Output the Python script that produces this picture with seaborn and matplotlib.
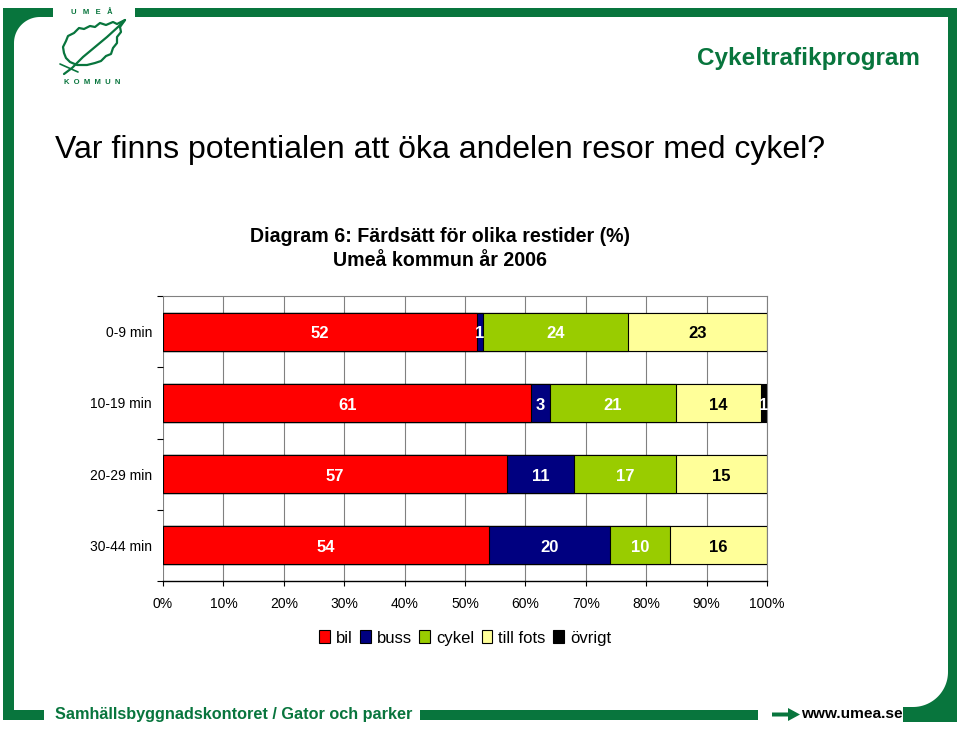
import numpy as np
import pandas as pd
import matplotlib
matplotlib.use('Agg')
import matplotlib.pyplot as plt
from matplotlib.patches import Rectangle, Polygon, Patch
import seaborn as sns

# ---------------- data ----------------
categories = ['0-9 min', '10-19 min', '20-29 min', '30-44 min']
modes = ['bil', 'buss', 'cykel', 'till fots', 'övrigt']
bil = [52, 61, 57, 54]
buss = [1, 3, 11, 20]
cykel = [24, 21, 17, 10]
till_fots = [23, 14, 15, 16]
ovrigt = [0, 1, 0, 0]
x_ticks = [0, 10, 20, 30, 40, 50, 60, 70, 80, 90, 100]
x_tick_labels = ['0%', '10%', '20%', '30%', '40%', '50%', '60%', '70%', '80%', '90%', '100%']

heading = 'Var finns potentialen att öka andelen resor med cykel?'
title1 = 'Diagram 6: Färdsätt för olika restider (%)'
title2 = 'Umeå kommun år 2006'
program = 'Cykeltrafikprogram'
footer = 'Samhällsbyggnadskontoret / Gator och parker'
web = 'www.umea.se'

colors = {'bil': '#FF0000', 'buss': '#000080', 'cykel': '#99CC00',
          'till fots': '#FFFF99', 'övrigt': '#000000'}
label_colors = {'bil': 'white', 'buss': 'white', 'cykel': 'white',
                'till fots': 'black', 'övrigt': 'white'}
GREEN = '#08753D'

values = {'bil': bil, 'buss': buss, 'cykel': cykel, 'till fots': till_fots, 'övrigt': ovrigt}

# long-form frame with cumulative ends (for stacking by overlap)
rows = []
for i, cat in enumerate(categories):
    cum = 0
    for m in modes:
        v = values[m][i]
        rows.append({'restid': cat, 'mode': m, 'value': v, 'start': cum, 'end': cum + v})
        cum += v
df = pd.DataFrame(rows)

# ---------------- figure ----------------
sns.set_theme(style='white')
plt.rcParams['font.family'] = ['Liberation Sans', 'DejaVu Sans']
plt.rcParams['text.color'] = 'black'
plt.rcParams['axes.labelcolor'] = 'black'
plt.rcParams['xtick.color'] = 'black'
plt.rcParams['ytick.color'] = 'black'

fig = plt.figure(figsize=(9.6, 7.29), dpi=100)
fig.patch.set_facecolor('white')

# decoration layer in pixel coordinates
bg = fig.add_axes([0, 0, 1, 1], zorder=0)
bg.set_xlim(0, 960)
bg.set_ylim(729, 0)
bg.axis('off')

def rect(x0, y0, x1, y1):
    bg.add_patch(Rectangle((x0, y0), x1 - x0, y1 - y0, facecolor=GREEN, edgecolor='none'))

# top band
rect(3, 8, 53, 17)
rect(135, 8, 957, 17)
# left bar
rect(3, 8, 14, 720)
# right bar
rect(948, 8, 957, 722)
# bottom pieces
rect(3, 710, 44, 720)
rect(420, 710, 758, 720)
rect(903, 707, 957, 722)

def fillet(corner, center, r, th0, th1):
    th = np.linspace(np.radians(th0), np.radians(th1), 30)
    arc = [(center[0] + r * np.cos(t), center[1] + r * np.sin(t)) for t in th]
    pts = [corner] + arc
    bg.add_patch(Polygon(pts, closed=True, facecolor=GREEN, edgecolor='none'))

fillet((14, 17), (40, 43), 26, 180, 270)
fillet((948, 707), (913, 672), 35, 0, 90)

# arrow before web address
bg.add_patch(Polygon([(772, 712.5), (788, 712.5), (788, 708), (800, 714.5),
                      (788, 721), (788, 716.5), (772, 716.5)],
                     closed=True, facecolor=GREEN, edgecolor='none'))

# logo
bg.text(92, 12, 'U   M   E   Å', ha='center', va='center', fontsize=5.5,
        fontweight='bold', color=GREEN)
bg.text(92, 82, 'K  O  M  M  U  N', ha='center', va='center', fontsize=5.5,
        fontweight='bold', color=GREEN)
leaf = [(125, 20), (117, 24), (113, 22), (106, 25), (100, 23), (95, 27), (90, 26),
        (84, 29), (79, 28), (74, 33), (68, 36), (66, 41), (63, 47), (64, 53),
        (66, 58), (70, 62), (77, 65), (87, 65), (95, 63), (101, 61), (106, 56),
        (111, 54), (113, 48), (117, 43), (117, 37), (121, 32), (120, 27), (125, 20)]
lx, ly = zip(*leaf)
bg.plot(lx, ly, color=GREEN, lw=1.6, solid_capstyle='round')
rib = [(64, 74), (72, 68), (83, 57), (95, 47), (107, 37), (118, 27), (124, 21)]
rx, ry = zip(*rib)
bg.plot(rx, ry, color=GREEN, lw=1.6, solid_capstyle='round')
bg.plot([60, 78], [64, 72], color=GREEN, lw=1.2)

# header texts
bg.text(920, 58, program, ha='right', va='center', fontsize=17.5, fontweight='bold',
        color=GREEN)
bg.text(55, 150, heading, ha='left', va='center', fontsize=23, color='black')
bg.text(440, 236, title1, ha='center', va='center', fontsize=14.1, fontweight='bold',
        color='black')
bg.text(440, 260, title2, ha='center', va='center', fontsize=14.1, fontweight='bold',
        color='black')

# footer texts
bg.text(55, 714, footer, ha='left', va='center', fontsize=11.7, fontweight='bold',
        color=GREEN)
bg.text(801, 714, web, ha='left', va='center', fontsize=11.1, fontweight='bold',
        color='black')

# ---------------- chart ----------------
ax = fig.add_axes([163 / 960, 1 - 581 / 729, 604 / 960, 285 / 729], zorder=1)
ax.set_facecolor('white')
ax.set_axisbelow(True)

draw_order = modes[::-1]  # övrigt first, bil last (on top)
sns.barplot(data=df, x='end', y='restid', hue='mode', order=categories,
            hue_order=draw_order, palette=colors, dodge=False, orient='h',
            width=0.53, saturation=1, edgecolor='black', linewidth=0.8,
            legend=False, ax=ax)

ax.set_xlim(0, 100)
ax.set_ylim(3.5, -0.5)
ax.set_xticks(x_ticks)
ax.set_xticklabels(x_tick_labels, fontsize=10)
ax.set_yticks(range(len(categories)))
ax.set_yticklabels(categories, fontsize=10)
ax.set_yticks([-0.5, 0.5, 1.5, 2.5, 3.5], minor=True)
ax.set_xlabel('')
ax.set_ylabel('')
ax.xaxis.grid(True, color='#808080', lw=0.8)
ax.yaxis.grid(False)

for side in ['top', 'right']:
    ax.spines[side].set_visible(True)
    ax.spines[side].set_color('#808080')
    ax.spines[side].set_linewidth(0.8)
ax.spines['left'].set_visible(False)
ax.spines['bottom'].set_color('black')
ax.spines['bottom'].set_linewidth(1.0)

ax.tick_params(axis='x', which='major', bottom=True, length=3.5, width=0.8,
               color='black', pad=8, labelcolor='black')
ax.tick_params(axis='y', which='major', left=False, length=0, pad=8, labelcolor='black')
ax.tick_params(axis='y', which='minor', left=True, length=4, width=0.8, color='black')

# segment labels
for _, r in df.iterrows():
    if r['value'] > 0:
        yi = categories.index(r['restid'])
        ax.text((r['start'] + r['end']) / 2, yi + 0.03, f"{r['value']:d}",
                ha='center', va='center', fontsize=12, fontweight='bold',
                color=label_colors[r['mode']], zorder=5)

# legend
handles = [Patch(facecolor=colors[m], edgecolor='black', linewidth=0.8, label=m) for m in modes]
fig.legend(handles=handles, loc='center', bbox_to_anchor=(465 / 960, 1 - 638 / 729),
           ncol=5, frameon=False, fontsize=12, handlelength=0.65, handleheight=0.8,
           handletextpad=0.35, columnspacing=0.45, borderaxespad=0, labelcolor='black')

fig.savefig('out.png', dpi=100)
